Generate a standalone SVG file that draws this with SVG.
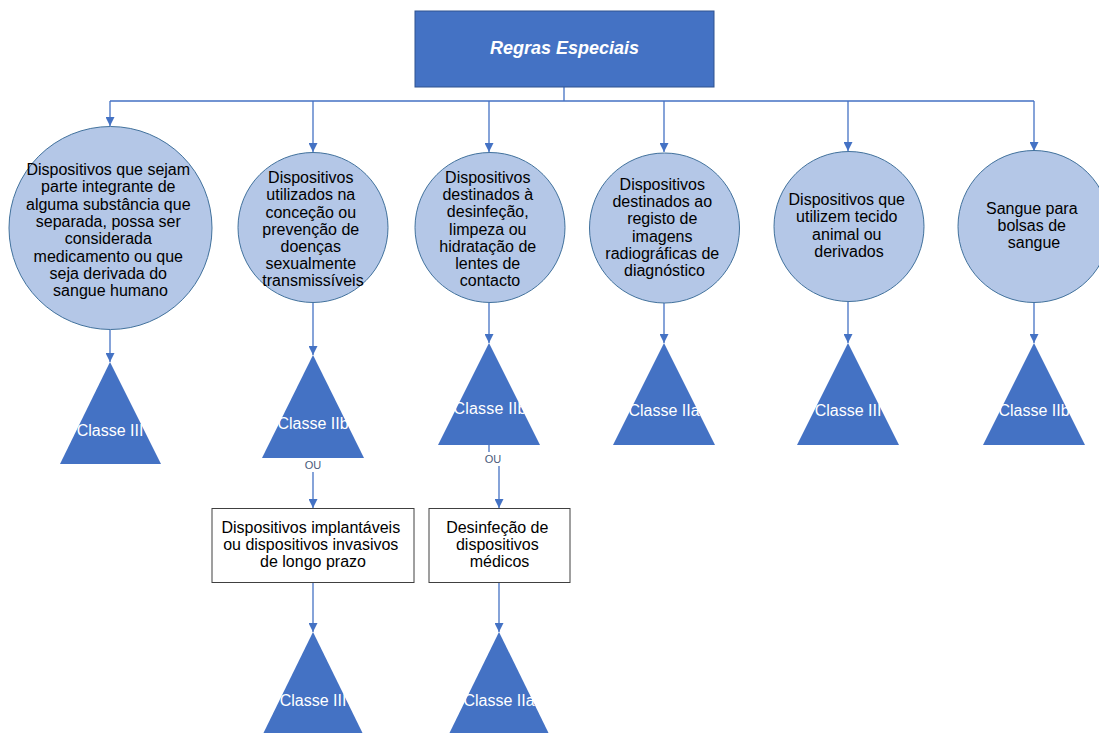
<svg xmlns="http://www.w3.org/2000/svg" width="1099" height="733" viewBox="0 0 1099 733">
  <defs>
    <marker id="arrow" viewBox="0 0 10 10" refX="10" refY="5" markerWidth="9" markerHeight="9" markerUnits="userSpaceOnUse" orient="auto">
      <path d="M0,0 L10,5 L0,10 z" fill="#4472C4"/>
    </marker>
  </defs>
  <style>
    .conn { stroke: #4472C4; stroke-width: 1.3; fill: none; }
    .arr { marker-end: url(#arrow); }
    .circle { fill: #B4C7E7; stroke: #41719C; stroke-width: 1; }
    .tri { fill: #4472C4; }
    .box { fill: #FFFFFF; stroke: #404040; stroke-width: 1; }
    .t { font-family: "Liberation Sans", Arial, sans-serif; font-size: 16px; fill: #000; text-anchor: middle; }
    .tw { font-family: "Liberation Sans", Arial, sans-serif; font-size: 16px; fill: #FFFFFF; text-anchor: middle; }
    .ou { font-family: "Liberation Sans", Arial, sans-serif; font-size: 11px; fill: #4A5A7A; text-anchor: middle; }
  </style>
  <rect width="1099" height="733" fill="#FFFFFF"/>

  <!-- connectors -->
  <g id="connectors">
    <path class="conn" d="M564,87 V101 M110,101 H1034"/>
    <path class="conn arr" d="M110,101 V126"/>
    <path class="conn arr" d="M313,101 V152"/>
    <path class="conn arr" d="M489,101 V152"/>
    <path class="conn arr" d="M664,101 V152"/>
    <path class="conn arr" d="M848,101 V151"/>
    <path class="conn arr" d="M1034,101 V151"/>
    <path class="conn arr" d="M110,330 V362"/>
    <path class="conn arr" d="M313,303 V355"/>
    <path class="conn arr" d="M489,303 V343"/>
    <path class="conn arr" d="M664,303 V343"/>
    <path class="conn arr" d="M848,302 V343"/>
    <path class="conn arr" d="M1034,302 V343"/>
    <path class="conn arr" d="M313,472 V508"/>
    <path class="conn" d="M489,445 V452"/>
    <path class="conn arr" d="M499,466 V508"/>
    <path class="conn arr" d="M313,583 V632"/>
    <path class="conn arr" d="M499,583 V632"/>
  </g>

  <!-- root -->
  <g id="root">
    <rect x="415" y="11" width="299" height="76" fill="#4472C4" stroke="#2F528F" stroke-width="1"/>
    <text x="564.5" y="54" font-family="Liberation Sans, Arial, sans-serif" font-size="18" font-weight="bold" font-style="italic" fill="#FFFFFF" text-anchor="middle">Regras Especiais</text>
  </g>

  <!-- rule circles -->
  <g id="rule-1">
    <circle class="circle" cx="110.5" cy="228" r="101.5"/>
    <text class="t">
      <tspan x="110.5" y="175">Dispositivos que sejam</tspan>
      <tspan x="110.5" y="192">parte integrante de</tspan>
      <tspan x="110.5" y="210">alguma substância que</tspan>
      <tspan x="110.5" y="227">separada, possa ser</tspan>
      <tspan x="110.5" y="244">considerada</tspan>
      <tspan x="110.5" y="262">medicamento ou que</tspan>
      <tspan x="110.5" y="279">seja derivada do</tspan>
      <tspan x="110.5" y="296">sangue humano</tspan>
    </text>
  </g>
  <g id="rule-2">
    <circle class="circle" cx="313" cy="227.5" r="75"/>
    <text class="t">
      <tspan x="313" y="183">Dispositivos</tspan>
      <tspan x="313" y="200">utilizados na</tspan>
      <tspan x="313" y="218">conceção ou</tspan>
      <tspan x="313" y="235">prevenção de</tspan>
      <tspan x="313" y="252">doenças</tspan>
      <tspan x="313" y="269">sexualmente</tspan>
      <tspan x="313" y="286">transmissíveis</tspan>
    </text>
  </g>
  <g id="rule-3">
    <circle class="circle" cx="490" cy="227.5" r="75"/>
    <text class="t">
      <tspan x="490" y="183">Dispositivos</tspan>
      <tspan x="490" y="200">destinados à</tspan>
      <tspan x="490" y="217">desinfeção,</tspan>
      <tspan x="490" y="235">limpeza ou</tspan>
      <tspan x="490" y="252">hidratação de</tspan>
      <tspan x="490" y="269">lentes de</tspan>
      <tspan x="490" y="286">contacto</tspan>
    </text>
  </g>
  <g id="rule-4">
    <circle class="circle" cx="664.5" cy="228" r="75"/>
    <text class="t">
      <tspan x="664.5" y="190">Dispositivos</tspan>
      <tspan x="664.5" y="207">destinados ao</tspan>
      <tspan x="664.5" y="224">registo de</tspan>
      <tspan x="664.5" y="242">imagens</tspan>
      <tspan x="664.5" y="259">radiográficas de</tspan>
      <tspan x="664.5" y="276">diagnóstico</tspan>
    </text>
  </g>
  <g id="rule-5">
    <circle class="circle" cx="849" cy="226.5" r="75"/>
    <text class="t">
      <tspan x="849" y="205">Dispositivos que</tspan>
      <tspan x="849" y="222">utilizem tecido</tspan>
      <tspan x="849" y="240">animal ou</tspan>
      <tspan x="849" y="257">derivados</tspan>
    </text>
  </g>
  <g id="rule-6">
    <circle class="circle" cx="1034" cy="226.5" r="76"/>
    <text class="t">
      <tspan x="1034" y="214">Sangue para</tspan>
      <tspan x="1034" y="231">bolsas de</tspan>
      <tspan x="1034" y="248">sangue</tspan>
    </text>
  </g>

  <!-- class triangles -->
  <g id="class-1">
    <polygon class="tri" points="110,362 161,464 60,464"/>
    <text class="tw" x="110" y="436">Classe III</text>
  </g>
  <g id="class-2">
    <polygon class="tri" points="313,355 364,458 262,458"/>
    <text class="tw" x="313" y="429">Classe IIb</text>
  </g>
  <g id="class-3">
    <polygon class="tri" points="489,343 540,445 438,445"/>
    <text class="tw" x="490" y="414" font-size="11.5" letter-spacing="0.2">Classe IIb</text>
  </g>
  <g id="class-4">
    <polygon class="tri" points="664,343 715,445 613,445"/>
    <text class="tw" x="664" y="416">Classe IIa</text>
  </g>
  <g id="class-5">
    <polygon class="tri" points="848,343 899,445 797,445"/>
    <text class="tw" x="848" y="416">Classe III</text>
  </g>
  <g id="class-6">
    <polygon class="tri" points="1034,343 1085,445 983,445"/>
    <text class="tw" x="1034" y="416">Classe IIb</text>
  </g>

  <!-- alternative labels -->
  <text class="ou" x="313" y="469">OU</text>
  <text class="ou" x="493" y="463">OU</text>

  <!-- alternative conditions -->
  <g id="alt-1">
    <rect class="box" x="212" y="508.5" width="202" height="74"/>
    <text class="t">
      <tspan x="313" y="533">Dispositivos implantáveis</tspan>
      <tspan x="313" y="550">ou dispositivos invasivos</tspan>
      <tspan x="313" y="567">de longo prazo</tspan>
    </text>
  </g>
  <g id="alt-2">
    <rect class="box" x="429" y="508.5" width="141" height="74"/>
    <text class="t">
      <tspan x="499.5" y="533">Desinfeção de</tspan>
      <tspan x="499.5" y="550">dispositivos</tspan>
      <tspan x="499.5" y="567">médicos</tspan>
    </text>
  </g>
  <g id="class-7">
    <polygon class="tri" points="313,632 364,736 262,736"/>
    <text class="tw" x="313" y="706">Classe III</text>
  </g>
  <g id="class-8">
    <polygon class="tri" points="499,632 550,736 448,736"/>
    <text class="tw" x="499" y="706">Classe IIa</text>
  </g>
</svg>
